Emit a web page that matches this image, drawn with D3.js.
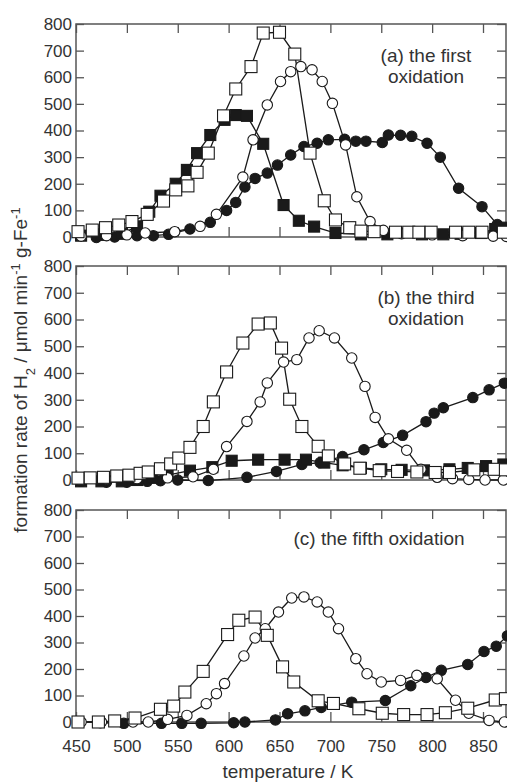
<!DOCTYPE html>
<html>
<head>
<meta charset="utf-8">
<script src="https://cdn.jsdelivr.net/npm/d3@7/dist/d3.min.js"></script>
<style>
html,body{margin:0;padding:0;background:#fff;}
svg{display:block;}
text{font-family:"Liberation Sans",Arial,sans-serif;fill:#333;}
</style>
</head>
<body>
<svg id="chart" width="507" height="782"></svg>
<script>
// ---- data: [temperature K, rate] ----
const xTicks = [450, 500, 550, 600, 650, 700, 750, 800, 850];
const yTicks = [0, 100, 200, 300, 400, 500, 600, 700, 800];
const panelLabels = [["(a) the first", "oxidation"], ["(b) the third", "oxidation"], ["(c) the fifth oxidation"]];

// panel (a) the first oxidation
const aFilledCircle = [[470,-2],[488,0],[510,5],[526,5],[541,10],[562,30],[582,55],[598,100],[607,130],[616,188],[626,220],[638,240],[648,270],[661,308],[674,340],[687,352],[698,365],[714,367],[725,360],[735,360],[751,355],[757,383],[769,382],[780,378],[795,352],[808,300],[826,183],[849,114],[864,47],[874,25]];
const aFilledSquare = [[455,5],[475,8],[495,12],[510,40],[522,95],[533,155],[548,200],[559,252],[569,315],[582,383],[596,440],[607,458],[618,455],[634,350],[654,120],[669,61],[684,39],[705,15],[730,10],[756,10],[790,10],[811,10],[828,12],[848,15],[862,30],[872,35]];
const aOpenCircle = [[455,3],[480,5],[500,8],[518,15],[547,20],[572,40],[588,85],[614,225],[624,365],[638,496],[651,584],[661,621],[671,640],[682,628],[692,584],[702,502],[715,346],[726,151],[739,58],[752,25],[770,12],[800,8],[830,5],[860,3],[873,2]];
const aOpenSquare = [[452,20],[466,26],[479,35],[492,45],[505,58],[520,85],[536,135],[548,177],[560,192],[569,243],[580,315],[595,455],[607,556],[622,640],[634,766],[650,769],[665,687],[680,315],[694,136],[705,64],[719,35],[730,22],[743,20],[764,18],[777,18],[787,18],[799,18],[823,18],[836,18],[849,18],[870,18]];

// panel (b) the third oxidation
const bFilledCircle = [[455,-5],[480,-8],[500,-8],[520,-5],[533,-3],[550,0],[580,-2],[618,10],[647,32],[672,58],[690,65],[712,88],[733,113],[752,140],[771,167],[794,218],[802,250],[811,270],[840,308],[856,337],[871,362]];
const bFilledSquare = [[455,-5],[475,-5],[495,-5],[510,0],[525,8],[540,18],[562,35],[584,48],[603,72],[629,76],[655,76],[676,76],[694,65],[712,55],[730,45],[750,40],[770,38],[792,36],[817,40],[835,45],[853,52],[870,58]];
const bOpenCircle = [[455,2],[480,3],[510,5],[540,8],[565,12],[585,40],[598,125],[618,219],[631,292],[638,363],[654,441],[667,450],[679,531],[689,558],[704,531],[721,456],[734,350],[744,234],[757,154],[775,111],[789,40],[805,10],[820,5],[836,2],[852,0],[870,0]];
const bOpenSquare = [[452,7],[464,8],[477,10],[490,15],[502,18],[513,25],[521,30],[533,42],[543,60],[551,82],[562,122],[575,200],[585,292],[598,404],[614,512],[629,583],[641,587],[652,493],[660,302],[672,200],[688,126],[698,90],[714,60],[729,44],[748,35],[766,32],[785,30],[803,28],[817,28],[841,38],[861,40],[872,38]];

// panel (c) the fifth oxidation
const cFilledCircle = [[474,-3],[497,-5],[534,-5],[554,-5],[573,-5],[605,-3],[616,0],[646,8],[658,31],[675,42],[691,55],[721,75],[754,81],[779,137],[794,168],[809,195],[835,217],[851,266],[863,286],[874,325]];
const cOpenCircle = [[455,0],[475,0],[506,0],[521,0],[540,10],[559,25],[578,69],[588,107],[596,145],[615,249],[626,317],[636,352],[649,415],[662,468],[674,472],[687,453],[698,415],[708,352],[725,239],[736,182],[750,151],[769,157],[785,176],[805,163],[823,82],[836,33],[856,6],[871,0]];
const cOpenSquare = [[452,0],[472,0],[488,4],[508,15],[533,48],[546,60],[557,113],[575,191],[599,330],[610,384],[626,396],[638,327],[653,208],[664,151],[688,80],[703,70],[728,50],[751,33],[772,28],[795,28],[813,35],[835,52],[862,83],[872,88]];

// ---- layout ----
const svg = d3.select("#chart");
const L = 76, R = 506;
const x = d3.scaleLinear().domain([450, 872.6]).range([L, R]);
const panels = [
  {top: 24, bottom: 237, label: panelLabels[0], series: [
    {d: aFilledCircle, shape: "circle", fill: true},
    {d: aFilledSquare, shape: "square", fill: true},
    {d: aOpenCircle, shape: "circle", fill: false},
    {d: aOpenSquare, shape: "square", fill: false}]},
  {top: 266, bottom: 480, label: panelLabels[1], series: [
    {d: bFilledCircle, shape: "circle", fill: true},
    {d: bFilledSquare, shape: "square", fill: true},
    {d: bOpenCircle, shape: "circle", fill: false},
    {d: bOpenSquare, shape: "square", fill: false}]},
  {top: 510, bottom: 722, label: panelLabels[2], series: [
    {d: cFilledCircle, shape: "circle", fill: true},
    {d: cOpenCircle, shape: "circle", fill: false},
    {d: cOpenSquare, shape: "square", fill: false}]}
];

const ink = "#1a1a1a";
const frameCol = "#555";

panels.forEach((p, pi) => {
  const y = d3.scaleLinear().domain([0, 800]).range([p.bottom, p.top]);
  const g = svg.append("g");
  const isLast = pi === panels.length - 1;

  // axes
  const ax = [
    g.append("g").attr("transform", `translate(${L},0)`)
      .call(d3.axisLeft(y).tickValues(yTicks).tickSizeInner(-8).tickSizeOuter(0).tickPadding(4)),
    g.append("g").attr("transform", `translate(${R},0)`)
      .call(d3.axisRight(y).tickValues(yTicks).tickSizeInner(-9).tickSizeOuter(0).tickFormat("")),
    g.append("g").attr("transform", `translate(0,${p.top})`)
      .call(d3.axisTop(x).tickValues(xTicks).tickSizeInner(-9).tickSizeOuter(0).tickFormat("")),
    g.append("g").attr("transform", `translate(0,${p.bottom})`)
      .call(d3.axisBottom(x).tickValues(xTicks).tickSizeInner(-10).tickSizeOuter(0).tickPadding(18)
        .tickFormat(isLast ? d3.format("d") : ""))
  ];
  ax.forEach(a => {
    a.select(".domain").remove();
    a.selectAll(".tick line").attr("stroke", frameCol).attr("stroke-width", 1.3);
    a.selectAll(".tick text").style("font-size", "17px").attr("fill", "#333")
      .style("font-family", '"Liberation Sans", Arial, sans-serif');
  });

  g.append("rect").attr("x", L).attr("y", p.top).attr("width", R - L).attr("height", p.bottom - p.top)
    .attr("fill", "none").attr("stroke", frameCol).attr("stroke-width", 1.5);

  // panel label
  const lab = g.append("text").attr("text-anchor", "middle").style("font-size", "19px");
  if (p.label.length === 2) {
    lab.attr("x", 426).attr("y", p.top + 38);
    lab.append("tspan").attr("x", 426).text(p.label[0]);
    lab.append("tspan").attr("x", 426).attr("dy", "1.1em").text(p.label[1]);
  } else {
    lab.attr("x", 379).attr("y", p.top + 35).text(p.label[0]);
  }

  const line = d3.line().x(d => x(d[0])).y(d => y(d[1]));
  p.series.forEach(s => {
    g.append("path").datum(s.d).attr("d", line)
      .attr("fill", "none").attr("stroke", ink).attr("stroke-width", 1.3);
  });
  p.series.forEach(s => {
    const col = s.fill ? ink : "#fff";
    if (s.shape === "circle") {
      g.append("g").selectAll("circle").data(s.d).join("circle")
        .attr("cx", d => x(d[0])).attr("cy", d => y(d[1])).attr("r", 5.2)
        .attr("fill", col).attr("stroke", ink).attr("stroke-width", 1.1);
    } else {
      const sz = s.fill ? 11 : 12;
      g.append("g").selectAll("rect").data(s.d).join("rect")
        .attr("x", d => x(d[0]) - sz / 2).attr("y", d => y(d[1]) - sz / 2)
        .attr("width", sz).attr("height", sz)
        .attr("fill", col).attr("stroke", ink).attr("stroke-width", 1.1);
    }
  });
});

// axis titles
svg.append("text").attr("x", 288).attr("y", 778).attr("text-anchor", "middle")
  .style("font-size", "19px").text("temperature / K");

const yt = svg.append("text").attr("transform", "translate(27,370) rotate(-90)")
  .attr("text-anchor", "middle").style("font-size", "19px");
yt.append("tspan").text("formation rate of H");
yt.append("tspan").attr("baseline-shift", "sub").style("font-size", "13px").text("2");
yt.append("tspan").text(" / μmol min");
yt.append("tspan").attr("baseline-shift", "super").style("font-size", "13px").text("-1");
yt.append("tspan").text(" g-Fe");
yt.append("tspan").attr("baseline-shift", "super").style("font-size", "13px").text("-1");
</script>
</body>
</html>
